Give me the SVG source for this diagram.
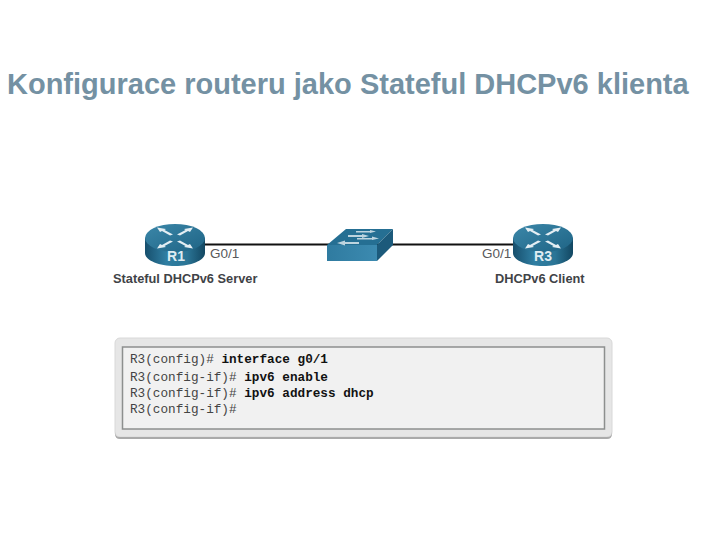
<svg xmlns="http://www.w3.org/2000/svg" width="720" height="540" viewBox="0 0 720 540">
<style>
.lab{font-family:"Liberation Sans",Arial,sans-serif;font-size:13.500px;fill:#58595b}
.cap{font-family:"Liberation Sans",Arial,sans-serif;font-size:12.800px;font-weight:bold;fill:#3f4347}
.rn{font-family:"Liberation Sans",Arial,sans-serif;font-size:14px;font-weight:bold;fill:#dfecf2}
.cli{font-family:"Liberation Mono",monospace;font-size:12.700px;fill:#444;white-space:pre}
.b{font-weight:bold;fill:#111}
.arr{fill:#e4eef3}
</style>
<defs>
<linearGradient id="rs" x1="0" x2="1" y1="0" y2="0"><stop offset="0" stop-color="#174f6d"/><stop offset=".35" stop-color="#2f7ea2"/><stop offset=".7" stop-color="#2b7596"/><stop offset="1" stop-color="#124762"/></linearGradient>
<linearGradient id="rt" x1="0" x2="1" y1="0" y2="1"><stop offset="0" stop-color="#3b87a9"/><stop offset="1" stop-color="#1f6485"/></linearGradient>
<linearGradient id="sf" x1="0" x2="1" y1="0" y2="0"><stop offset="0" stop-color="#2f7ba0"/><stop offset="1" stop-color="#3c8ab0"/></linearGradient>
<g id="router">
<path d="M-30 0V15C-30 22 -17 28 0 28S30 22 30 15V0Z" fill="url(#rs)"/>
<ellipse cx="0" cy="0" rx="30" ry="14" fill="url(#rt)"/>
<path class="arr" d="M-18 -10.500L-9 -9L-10.500 -8L-2 -3.500L-5 -2.500L-13 -7L-15 -6ZM18 -10.500L9 -9L10.500 -8L2 -3.500L5 -2.500L13 -7L15 -6ZM-18 10.500L-9 9L-10.500 8L-2 3.500L-5 2.500L-13 7L-15 6ZM18 10.500L9 9L10.500 8L2 3.500L5 2.500L13 7L15 6Z"/>
</g>
</defs>
<rect width="720" height="540" fill="#fff"/>
<text x="7" y="94" font-family="Liberation Sans, Arial, sans-serif" font-size="29" font-weight="bold" fill="#7491a3">Konfigurace routeru jako Stateful DHCPv6 klienta</text>
<g id="connectors"><path d="M205 244.500H515" stroke="#111" stroke-width="2" fill="none"/></g>
<g id="R1"><use href="#router" x="175" y="238"/><text class="rn" x="176" y="261" text-anchor="middle">R1</text></g>
<g id="switch">
<path d="M327 245L346 229H393L377 245Z" fill="#256f93"/>
<path d="M327 245H377V261H327Z" fill="url(#sf)"/>
<path d="M377 245L393 229V245L377 261Z" fill="#1c5a7b"/>
<path class="arr" d="M337 243L345 240.500V242H359V244H345V245.500ZM348 235H362V234L369 236L362 238V237H348ZM356 231H370V230L376 231.500L370 233V232.500H356ZM357 238H372V236.500L379 238.500L372 240V239.500H357Z" opacity=".8"/>
</g>
<g id="R3"><use href="#router" x="543" y="238"/><text class="rn" x="543" y="261" text-anchor="middle">R3</text></g>
<text class="lab" x="210" y="258">G0/1</text>
<text class="lab" x="482" y="258">G0/1</text>
<text class="cap" x="113" y="283">Stateful DHCPv6 Server</text>
<text class="cap" x="495" y="283">DHCPv6 Client</text>
<g id="console">
<rect x="115" y="338" width="497" height="99" rx="5" fill="#e6e6e6" stroke="#d8d8d8"/>
<path d="M115 434V432Q115 437 120 437H607Q612 437 612 432V434Q612 439 607 439H120Q115 439 115 434Z" fill="#aaa"/>
<rect x="122.500" y="347" width="482" height="82" fill="#f1f1f1" stroke="#8d8f8e" stroke-width="1.500"/>
<text class="cli" x="130" y="363">R3(config)# <tspan class="b">interface g0/1</tspan></text>
<text class="cli" x="130" y="381">R3(config-if)# <tspan class="b">ipv6 enable</tspan></text>
<text class="cli" x="130" y="397">R3(config-if)# <tspan class="b">ipv6 address dhcp</tspan></text>
<text class="cli" x="130" y="413">R3(config-if)#</text>
</g>
</svg>
